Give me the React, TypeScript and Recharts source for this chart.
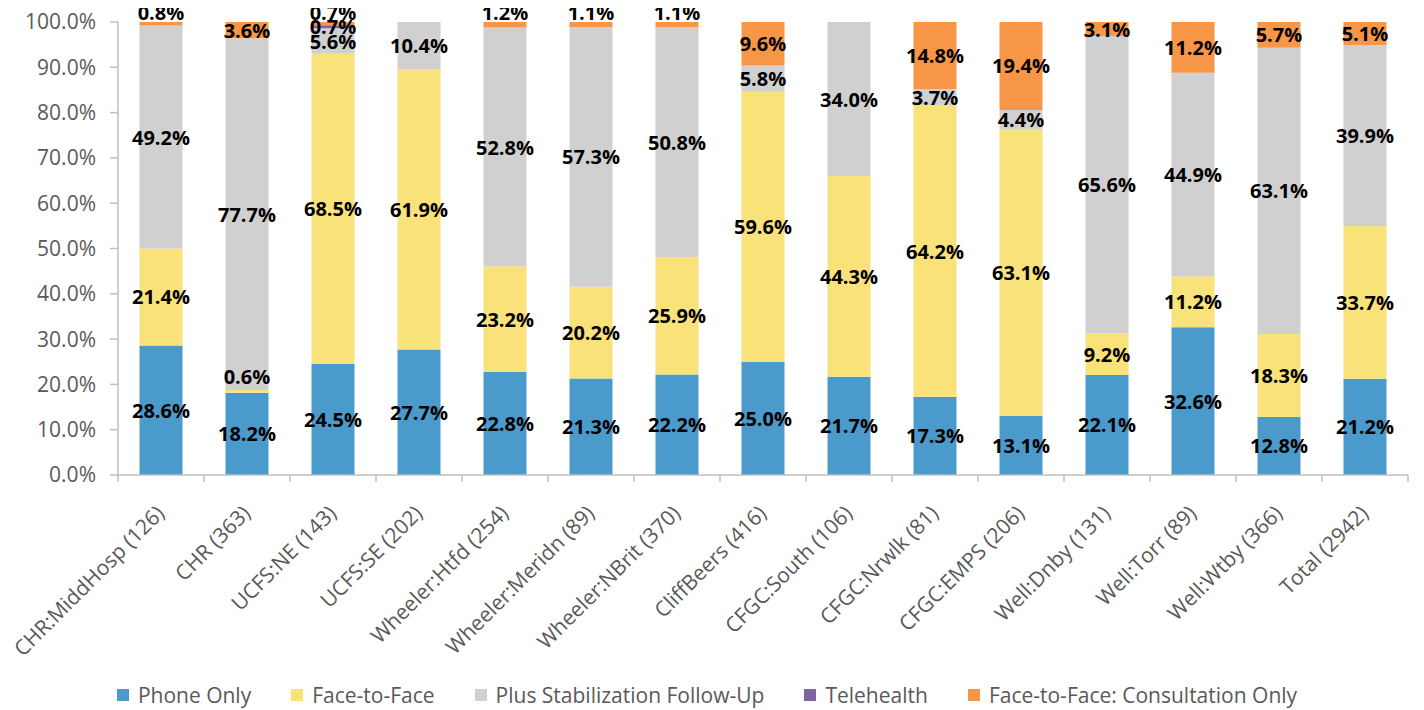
import React from 'react';
import { BarChart, Bar, XAxis, YAxis, Legend, LabelList } from 'recharts';

const categories = [
  'CHR:MiddHosp (126)',
  'CHR (363)',
  'UCFS:NE (143)',
  'UCFS:SE (202)',
  'Wheeler:Htfd (254)',
  'Wheeler:Meridn (89)',
  'Wheeler:NBrit (370)',
  'CliffBeers (416)',
  'CFGC:South (106)',
  'CFGC:Nrwlk (81)',
  'CFGC:EMPS (206)',
  'Well:Dnby (131)',
  'Well:Torr (89)',
  'Well:Wtby (366)',
  'Total (2942)',
];

const phoneOnly = [28.6, 18.2, 24.5, 27.7, 22.8, 21.3, 22.2, 25.0, 21.7, 17.3, 13.1, 22.1, 32.6, 12.8, 21.2];
const faceToFace = [21.4, 0.6, 68.5, 61.9, 23.2, 20.2, 25.9, 59.6, 44.3, 64.2, 63.1, 9.2, 11.2, 18.3, 33.7];
const plusStabilization = [49.2, 77.7, 5.6, 10.4, 52.8, 57.3, 50.8, 5.8, 34.0, 3.7, 4.4, 65.6, 44.9, 63.1, 39.9];
const telehealth = [0, 0, 0.7, 0, 0, 0, 0, 0, 0, 0, 0, 0, 0, 0, 0];
const consultationOnly = [0.8, 3.6, 0.7, 0, 1.2, 1.1, 1.1, 9.6, 0, 14.8, 19.4, 3.1, 11.2, 5.7, 5.1];

const yTicks = [0, 0.1, 0.2, 0.3, 0.4, 0.5, 0.6, 0.7, 0.8, 0.9, 1.0];

const series = [
  { key: 'phone', name: 'Phone Only', color: '#4A9ACB' },
  { key: 'f2f', name: 'Face-to-Face', color: '#F9E27A' },
  { key: 'plus', name: 'Plus Stabilization Follow-Up', color: '#D0D0D0' },
  { key: 'tele', name: 'Telehealth', color: '#8064A2' },
  { key: 'consult', name: 'Face-to-Face: Consultation Only', color: '#F79646' },
];

const data = categories.map((name, i) => ({
  name,
  phone: phoneOnly[i],
  f2f: faceToFace[i],
  plus: plusStabilization[i],
  tele: telehealth[i],
  consult: consultationOnly[i],
}));

const FONT = '"Open Sans", "Noto Sans", sans-serif';
const CHART_W = 1424;
const CHART_H = 710;
const Y_AXIS_W = 118;
const MARGIN = { top: 22, right: 16, left: 0, bottom: 3 };
const BAND = (CHART_W - MARGIN.right - Y_AXIS_W - MARGIN.left) / categories.length;

const makeLabel = (raise: number) => (props: any) => {
  const { x, y, width, height, value } = props;
  if (!value) return null;
  const cx = Number(x) + Number(width) / 2;
  const top = Math.min(Number(y), Number(y) + Number(height));
  let cy = top + Math.abs(Number(height)) / 2;
  if (raise > 0 && Math.abs(Number(height)) < 10) cy = top - raise;
  return (
    <text
      x={cx}
      y={cy}
      textAnchor="middle"
      dominantBaseline="central"
      fontFamily={FONT}
      fontWeight={700}
      fontSize={20}
      fill="#000"
    >
      {Number(value).toFixed(1)}%
    </text>
  );
};

const CategoryTick = (props: any) => {
  const { x, y, payload, index, visibleTicksCount } = props;
  return (
    <g>
      <line x1={x - BAND / 2} x2={x - BAND / 2} y1={y} y2={y + 7} stroke="#BFBFBF" strokeWidth={1.5} />
      {index === visibleTicksCount - 1 && (
        <line x1={x + BAND / 2} x2={x + BAND / 2} y1={y} y2={y + 7} stroke="#BFBFBF" strokeWidth={1.5} />
      )}
      <text
        transform={`translate(${x - 1},${y + 34}) rotate(-45)`}
        textAnchor="end"
        dominantBaseline="central"
        fontFamily={FONT}
        fontSize={21}
        fill="#595959"
      >
        {payload.value}
      </text>
    </g>
  );
};

const LegendContent = () => (
  <div
    style={{
      display: 'flex',
      justifyContent: 'center',
      alignItems: 'center',
      gap: 40,
      fontFamily: FONT,
      fontSize: 21,
      color: '#595959',
      height: 24,
      paddingLeft: 6,
    }}
  >
    {series.map((s) => (
      <div key={s.key} style={{ display: 'flex', alignItems: 'center' }}>
        <span style={{ display: 'inline-block', width: 12, height: 12, background: s.color, marginRight: 9 }} />
        <span>{s.name}</span>
      </div>
    ))}
  </div>
);

export default function App() {
  return (
    <div style={{ width: CHART_W, height: CHART_H, marginTop: -8, marginLeft: -8 }}>
      <BarChart
        width={CHART_W}
        height={CHART_H}
        data={data}
        stackOffset="expand"
        margin={MARGIN}
        barCategoryGap="25%"
      >
        <XAxis
          dataKey="name"
          interval={0}
          tickLine={false}
          tickSize={0}
          tickMargin={0}
          axisLine={{ stroke: '#BFBFBF', strokeWidth: 1.5 }}
          height={208}
          tick={<CategoryTick />}
        />
        <YAxis
          width={Y_AXIS_W}
          domain={[0, 1]}
          ticks={yTicks}
          interval={0}
          tickFormatter={(v: number) => `${(v * 100).toFixed(1)}%`}
          tick={{ fill: '#595959', fontSize: 21, fontFamily: FONT }}
          tickLine={{ stroke: '#BFBFBF', strokeWidth: 1.5 }}
          axisLine={{ stroke: '#BFBFBF', strokeWidth: 1.5 }}
          tickSize={8}
          tickMargin={14}
        />
        <Legend verticalAlign="bottom" content={<LegendContent />} />
        {series.map((s) => (
          <Bar key={s.key} dataKey={s.key} name={s.name} stackId="a" fill={s.color} isAnimationActive={false}>
            <LabelList
              dataKey={s.key}
              content={makeLabel(s.key === 'consult' ? 10 : s.key === 'f2f' ? 13 : 0)}
            />
          </Bar>
        ))}
      </BarChart>
    </div>
  );
}
